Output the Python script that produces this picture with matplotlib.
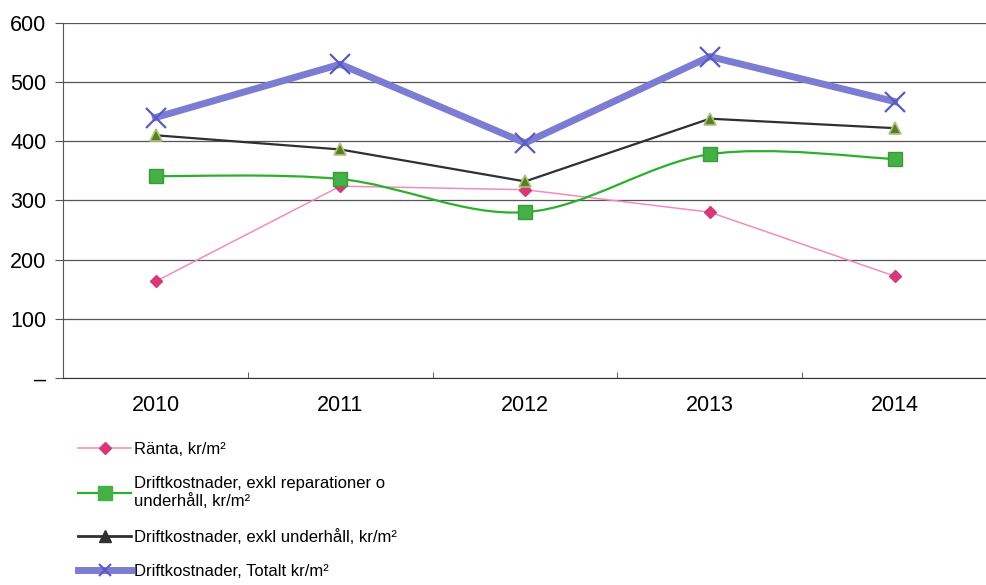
import numpy as np
import matplotlib.pyplot as plt
from matplotlib.path import Path
from matplotlib.patches import PathPatch
from matplotlib.lines import Line2D

plt.rcParams['font.family'] = ['Liberation Sans', 'DejaVu Sans']

years = ['2010', '2011', '2012', '2013', '2014']
ranta = [163, 324, 318, 280, 172]
drift_exkl_rep = [341, 336, 280, 378, 370]
drift_exkl_underhall = [410, 386, 332, 438, 422]
drift_totalt = [440, 530, 397, 543, 467]
ytick_labels = ['–', '100', '200', '300', '400', '500', '600']

labels = ['Ränta, kr/m²',
          'Driftkostnader, exkl reparationer o\nunderhåll, kr/m²',
          'Driftkostnader, exkl underhåll, kr/m²',
          'Driftkostnader, Totalt kr/m²']


def smooth_path(xs, ys):
    # excel-style smoothed line: cubic bezier through the points
    pts = np.column_stack([xs, ys]).astype(float)
    n = len(pts)
    verts = [pts[0]]
    codes = [Path.MOVETO]
    for i in range(n - 1):
        p_prev = pts[max(i - 1, 0)]
        p0 = pts[i]
        p1 = pts[i + 1]
        p_next = pts[min(i + 2, n - 1)]
        c1 = p0 + (p1 - p_prev) / 6
        c2 = p1 - (p_next - p0) / 6
        verts += [c1, c2, p1]
        codes += [Path.CURVE4] * 3
    return Path(verts, codes)


x = np.arange(len(years))

fig = plt.figure(figsize=(9.87, 5.85), dpi=100)
ax = fig.add_axes([0.064, 0.354, 0.936, 0.607])

pink_line = '#f28cbc'
pink_mark = '#d8387a'
green = '#2bb02b'
green_mark = '#45b045'
black = '#303030'
blue = '#7c7cd2'
blue_mark = '#5a5ac4'

ax.plot(x, ranta, color=pink_line, lw=1.1, zorder=3)
ax.plot(x, ranta, ls='none', marker='D', ms=6.5, color=pink_mark, zorder=4)

ax.add_patch(PathPatch(smooth_path(x, drift_exkl_rep), fill=False,
                       edgecolor=green, lw=1.6, zorder=3))
ax.plot(x, drift_exkl_rep, ls='none', marker='s', ms=10, color=green_mark,
        mec='#3a9a3a', zorder=4)

ax.plot(x, drift_exkl_underhall, color=black, lw=1.6, zorder=3)
ax.plot(x, drift_exkl_underhall, ls='none', marker='^', ms=9, mfc='#5f7a2a',
        mec='#a8c878', mew=1.2, zorder=4)

ax.plot(x, drift_totalt, color=blue, lw=5, zorder=3)
ax.plot(x, drift_totalt, ls='none', marker='x', ms=15, mew=1.6,
        color=blue_mark, zorder=4)

ax.set_xlim(-0.5, 4.46)
ax.set_ylim(0, 600)
ax.set_yticks(range(0, 601, 100))
ax.set_yticklabels(ytick_labels, fontsize=15.5)
ax.set_xticks(x)
ax.set_xticklabels(years, fontsize=15.5)
ax.set_xticks(np.arange(-0.5, 4.6, 1), minor=True)
ax.tick_params(axis='x', which='major', length=0, pad=12)
ax.tick_params(axis='x', which='minor', direction='in', length=4, color='#444444')
ax.tick_params(axis='y', length=6, color='#555555', pad=6)

ax.grid(axis='y', color='#555555', lw=0.9)
ax.set_axisbelow(True)
for s in ['top', 'right']:
    ax.spines[s].set_visible(False)
ax.spines['left'].set_color('#555555')
ax.spines['bottom'].set_color('#333333')

handles = [
    Line2D([], [], color=pink_line, lw=1.1, marker='D', ms=6, mfc=pink_mark, mec=pink_mark),
    Line2D([], [], color=green, lw=1.6, marker='s', ms=10, mfc=green_mark, mec=green_mark),
    Line2D([], [], color=black, lw=2, marker='^', ms=8, mfc='#303030', mec='#303030'),
    Line2D([], [], color=blue, lw=5, marker='x', ms=8, mew=1.5, mec=blue_mark),
]
fig.legend(handles, labels, loc='upper left', bbox_to_anchor=(0.079, 0.245),
           frameon=False, fontsize=12, handlelength=3.2, handletextpad=0.15,
           labelspacing=1.15, borderaxespad=0, borderpad=0)

fig.savefig('out.png', dpi=100)
